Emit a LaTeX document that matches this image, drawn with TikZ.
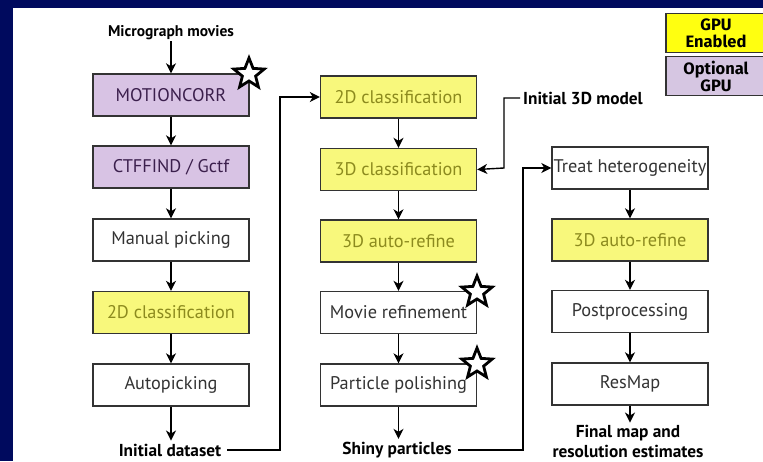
\documentclass[tikz,border=0pt]{standalone}
\usepackage{fontspec}
\setmainfont{PT Sans}
\newfontfamily\legfont{Fira Sans}
\usetikzlibrary{shapes.geometric,arrows.meta}
\definecolor{navy}{HTML}{000A5E}
\definecolor{lav}{HTML}{D8C3E4}
\definecolor{lyel}{HTML}{F8F87C}
\definecolor{olive}{HTML}{8C8A1E}
\definecolor{dpurp}{HTML}{3B1F4C}
\definecolor{dgray}{HTML}{333333}
\definecolor{legyel}{HTML}{FFFF10}
\definecolor{leglav}{HTML}{D6C6E2}
\begin{document}
\begin{tikzpicture}[x=1pt,y=-1pt,
  box/.style={draw=dgray,line width=1.4pt,minimum width=156pt,minimum height=42pt,inner sep=0pt,font=\fontsize{18.3}{20}\selectfont,text=dgray},
  ybox/.style={box,fill=lyel,text=olive},
  pbox/.style={box,fill=lav,text=dpurp},
  lbl/.style={font=\fontsize{17.3}{20}\selectfont\bfseries,text=black,inner sep=1pt,align=center},
  arr/.style={line width=1.4pt,-{Stealth[length=10pt,width=10pt,inset=3pt]}},
  starmark/.style={star,star points=5,star point ratio=2.3,minimum size=32pt,inner sep=0pt,draw=black,line width=2.8pt,fill=white},
  legbox/.style={draw=dgray,line width=1.2pt,minimum width=100pt,minimum height=39pt,inner sep=0pt,align=center,font=\legfont\fontsize{16.5}{17}\selectfont\bfseries,text=black}
]
\useasboundingbox (0,0) rectangle (763,461);
\fill[white] (0,0) rectangle (763,461);
\fill[navy] (0,0) rectangle (763,8);
\fill[navy] (0,0) rectangle (13,461);

% column 1
\node[lbl,font=\fontsize{15.5}{18}\selectfont\bfseries] (mm) at (171,33) {Micrograph movies};
\node[pbox] (mc) at (171,95) {MOTIONCORR};
\node[pbox] (ctf) at (171,167) {CTFFIND / Gctf};
\node[box] (man) at (171,240) {Manual picking};
\node[ybox] (c2a) at (171,312.5) {2D classification};
\node[box] (auto) at (171,385) {Autopicking};
\node[lbl] (idata) at (170,450) {Initial dataset};

% column 2
\node[ybox] (c2b) at (398.5,97) {2D classification};
\node[ybox] (c3) at (398.5,169.5) {3D classification};
\node[ybox] (ar1) at (398.5,241) {3D auto-refine};
\node[box] (mov) at (398.5,312.5) {Movie refinement};
\node[box] (pol) at (398.5,385) {Particle polishing};
\node[lbl] (shiny) at (397,450) {Shiny particles};
\node[lbl,anchor=west] (init3d) at (522,98) {Initial 3D model};

% column 3
\node[box] (het) at (630,168) {Treat heterogeneity};
\node[ybox] (ar2) at (630,240) {3D auto-refine};
\node[box] (post) at (630,311.5) {Postprocessing};
\node[box] (res) at (630,384) {ResMap};
\node[lbl] (final) at (628,441) {Final map and\\resolution estimates};

% legend
\node[legbox,fill=legyel] (leg1) at (716,33) {GPU\\Enabled};
\node[legbox,fill=leglav] (leg2) at (716,76) {Optional\\GPU};

% stars
\node[starmark] (s1) at (249,74) {};
\node[starmark] (s2) at (477,292) {};
\node[starmark] (s3) at (477,364) {};

% arrows column 1
\draw[arr] (mc.north |- mm.south) -- (mc.north);
\draw[arr] (mc) -- (ctf);
\draw[arr] (ctf) -- (man);
\draw[arr] (man) -- (c2a);
\draw[arr] (c2a) -- (auto);
\draw[arr] (auto.south) -- ([yshift=2pt]auto.south |- idata.north);

% arrows column 2
\draw[arr] (c2b) -- (c3);
\draw[arr] (c3) -- (ar1);
\draw[arr] (ar1) -- (mov);
\draw[arr] (mov) -- (pol);
\draw[arr] (pol.south) -- ([yshift=2pt]pol.south |- shiny.north);

% arrows column 3
\draw[arr] (het) -- (ar2);
\draw[arr] (ar2) -- (post);
\draw[arr] (post) -- (res);
\draw[arr] (res.south) -- ([yshift=1pt]res.south |- final.north);

% connectors
\coordinate (k1) at (280,452);
\coordinate (k2) at (504,168);
\coordinate (k3) at (523,452);
\draw[arr] ([xshift=5pt]idata.east) -- (idata.east -| k1) |- (c2b.west);
\draw[arr] ([xshift=-2pt]init3d.west) -| (k2) -- (c3.east);
\draw[arr] ([xshift=5pt]shiny.east) -- (shiny.east -| k3) |- (het.west);
\end{tikzpicture}
\end{document}
